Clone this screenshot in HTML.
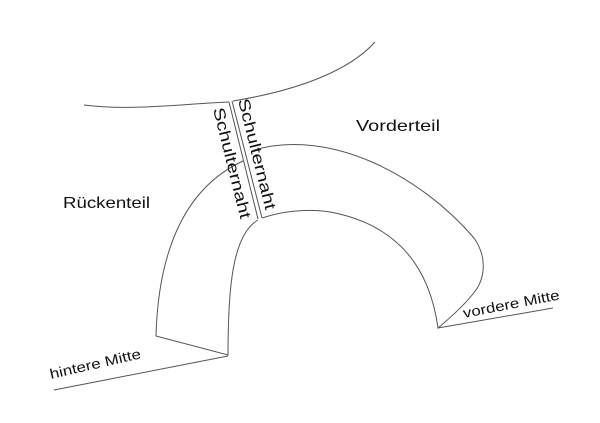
<!DOCTYPE html>
<html><head><style>body{margin:0;background:#fff}svg{display:block}</style></head>
<body>
<svg width="600" height="423" viewBox="0 0 600 423" xmlns="http://www.w3.org/2000/svg" font-family="Liberation Sans, sans-serif">
<g fill="none" stroke="#555" stroke-width="1">
<path d="M84,105 C130,111 180,104 229,102"/>
<path d="M233,101 C300,90 350,70 375,42"/>
<line x1="229" y1="102" x2="258" y2="219"/>
<line x1="232" y1="101" x2="262" y2="218"/>
<path d="M243,161 C180,190 158,260 156,336 L228,355 C228,290 232,235 258,220"/>
<path d="M254,150 C330,128 420,175 474,238 C486,255 486,275 476,290 C465,305 450,318 438,328 C430,270 400,225 330,212 C305,208 280,212 262,218"/>
<line x1="438" y1="328" x2="553" y2="308"/>
<line x1="54" y1="390" x2="228" y2="356"/>
</g>
<g fill="#111" font-size="16">
<text x="356" y="131" textLength="84" lengthAdjust="spacingAndGlyphs">Vorderteil</text>
<text x="63" y="208" textLength="87" lengthAdjust="spacingAndGlyphs">Rückenteil</text>
<text transform="translate(238,100) rotate(76)" textLength="114" lengthAdjust="spacingAndGlyphs">Schulternaht</text>
<text transform="translate(213,109) rotate(76)" textLength="114" lengthAdjust="spacingAndGlyphs">Schulternaht</text>
<text font-size="14" transform="translate(464,318) rotate(-11)" textLength="98" lengthAdjust="spacingAndGlyphs">vordere Mitte</text>
<text font-size="14" transform="translate(51,379) rotate(-13)" textLength="93" lengthAdjust="spacingAndGlyphs">hintere Mitte</text>
</g>
</svg>
</body></html>
